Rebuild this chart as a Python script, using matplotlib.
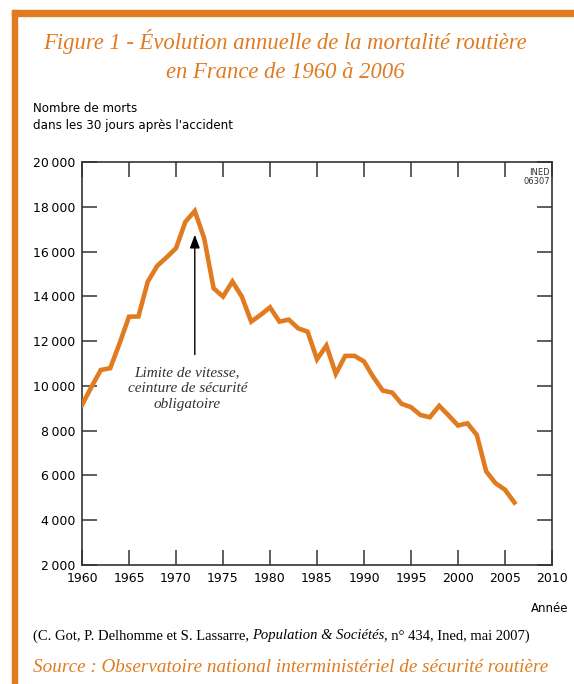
import numpy as np
import matplotlib
matplotlib.use('Agg')
import matplotlib.pyplot as plt
from matplotlib.patches import Rectangle
from matplotlib.ticker import FuncFormatter

# Data
years = list(range(1960, 2007))
deaths = [9150, 9950, 10710, 10790, 11900, 13090, 13100, 14660, 15360, 15740,
          16150, 17330, 17810, 16590, 14360, 13990, 14660, 13990, 12870, 13170,
          13510, 12870, 12960, 12570, 12420, 11190, 11800, 10540, 11340, 11340,
          11090, 10390, 9790, 9700, 9200, 9050, 8700, 8600, 9110, 8680,
          8230, 8330, 7810, 6180, 5650, 5360, 4790]
xticks = list(range(1960, 2011, 5))
yticks = list(range(2000, 20001, 2000))

orange = '#E07B20'
dark = '#333333'

fig = plt.figure(figsize=(5.74, 6.84), dpi=100)
W, H = 574, 684

# orange page frame (top and left)
fig.patches.append(Rectangle((12 / W, 1 - 16 / H), 1 - 12 / W, 6 / H,
                             transform=fig.transFigure, color=orange, zorder=0))
fig.patches.append(Rectangle((12 / W, 0), 5 / W, 1 - 10 / H,
                             transform=fig.transFigure, color=orange, zorder=0))

# title
fig.text(285 / W, 1 - 42 / H, 'Figure 1 - Évolution annuelle de la mortalité routière',
         ha='center', va='center', fontsize=16.3, style='italic',
         family='Liberation Serif', color=orange)
fig.text(285 / W, 1 - 72 / H, 'en France de 1960 à 2006',
         ha='center', va='center', fontsize=16.3, style='italic',
         family='Liberation Serif', color=orange)

# y label
fig.text(33 / W, 1 - 117 / H, 'Nombre de morts\ndans les 30 jours après l\'accident',
         ha='left', va='center', fontsize=8.6, color='black', linespacing=1.45)

ax = fig.add_axes([82 / W, 1 - 565 / H, 470 / W, 403 / H])
ax.plot(years, deaths, color=orange, lw=3.3, solid_joinstyle='miter', zorder=3)

ax.set_xlim(1960, 2010)
ax.set_ylim(2000, 20000)
ax.set_xticks(xticks)
ax.set_yticks(yticks)
ax.yaxis.set_major_formatter(FuncFormatter(lambda v, p: f'{int(v):,}'.replace(',', '\u2009')))
ax.tick_params(direction='in', length=11, width=1.1, color=dark,
               top=True, right=True, labelsize=9, pad=5)
for s in ax.spines.values():
    s.set_color(dark)
    s.set_linewidth(1.2)

ax.text(1.035, -0.107, 'Année', transform=ax.transAxes, ha='right', va='center',
        fontsize=8.5)
ax.text(0.995, 0.985, 'INED\n06307', transform=ax.transAxes, ha='right', va='top',
        fontsize=6, linespacing=1.0, color=dark, family='Liberation Sans Narrow')

# annotation arrow
ax.annotate('', xy=(1972, 16750), xytext=(1972, 11400),
            arrowprops=dict(arrowstyle='-|>,head_length=0.8,head_width=0.3',
                            color='black', lw=1.0, shrinkA=0, shrinkB=0))
ax.text(1971.2, 9870, 'Limite de vitesse,\nceinture de sécurité\nobligatoire',
        ha='center', va='center', fontsize=11, style='italic',
        family='Liberation Serif', color=dark, linespacing=1.3)

# citation line with italic part
fs = 10.5
t1 = fig.text(33 / W, 1 - 636 / H, '(C. Got, P. Delhomme et S. Lassarre,',
              ha='left', va='center', fontsize=fs, family='Liberation Serif')
t2 = fig.text(0, 0, 'Population & Sociétés', fontsize=fs, family='Liberation Serif',
              style='italic', va='center')
t3 = fig.text(0, 0, ', n° 434, Ined, mai 2007)', fontsize=fs,
              family='Liberation Serif', va='center')
fig.canvas.draw()
r = fig.canvas.get_renderer()
bb1 = t1.get_window_extent(r)
t2.set_position(((bb1.x1 + 3) / W, 1 - 636 / H))
bb2 = t2.get_window_extent(r)
t3.set_position((bb2.x1 / W, 1 - 636 / H))

fig.text(33 / W, 1 - 668 / H,
         'Source : Observatoire national interministériel de sécurité routière',
         ha='left', va='center', fontsize=13.8, style='italic',
         family='Liberation Serif', color=orange)

fig.savefig('out.png', dpi=100)
